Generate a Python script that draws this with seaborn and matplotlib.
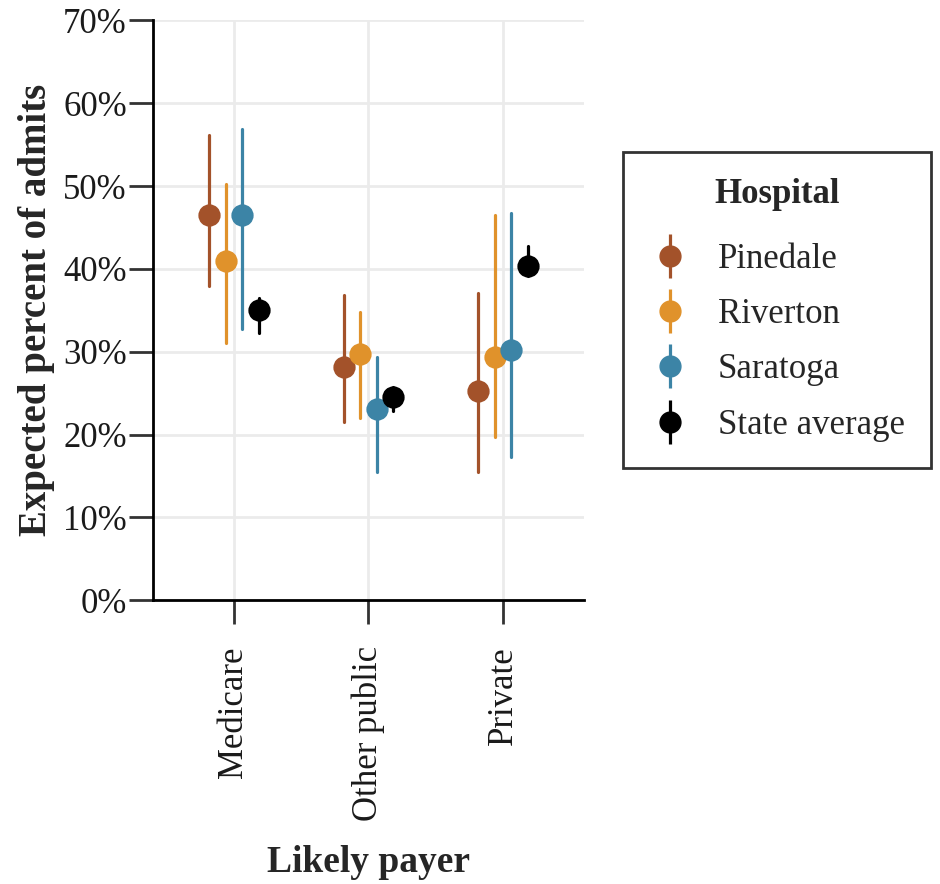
import numpy as np
import pandas as pd
import seaborn as sns
import matplotlib.pyplot as plt
from matplotlib.lines import Line2D
from matplotlib.legend_handler import HandlerTuple
from matplotlib.ticker import PercentFormatter

payers = ["Medicare", "Other public", "Private"]
hospitals = ["Pinedale", "Riverton", "Saratoga", "State average"]

# Estimated share of admits (%) with lower / upper interval bounds, per payer
estimate = {
    "Pinedale":      [46.5, 28.1, 25.2],
    "Riverton":      [40.9, 29.7, 29.4],
    "Saratoga":      [46.5, 23.1, 30.2],
    "State average": [35.0, 24.5, 40.4],
}
lower = {
    "Pinedale":      [37.9, 21.5, 15.5],
    "Riverton":      [31.1, 22.0, 19.7],
    "Saratoga":      [32.7, 15.5, 17.3],
    "State average": [32.3, 22.9, 39.1],
}
upper = {
    "Pinedale":      [56.2, 36.9, 37.1],
    "Riverton":      [50.3, 34.8, 46.5],
    "Saratoga":      [56.9, 29.4, 46.7],
    "State average": [36.5, 25.7, 42.8],
}

colors = ["#A3522A", "#E0922B", "#3C84A6", "#000000"]

# Long table: each group carries its lower bound, estimate and upper bound,
# so the median is the estimate and the min/max span is the interval.
rows = []
for h in hospitals:
    for i, p in enumerate(payers):
        for v in (lower[h][i], estimate[h][i], upper[h][i]):
            rows.append({"payer": p, "hospital": h, "value": v})
df = pd.DataFrame(rows)

sns.set_theme(style="whitegrid")
plt.rcParams["font.family"] = ["Liberation Serif", "DejaVu Serif"]

fig = plt.figure(figsize=(9.4, 8.84), dpi=100)
ax = fig.add_axes([0.163, 0.321, 0.458, 0.656])

sns.pointplot(
    data=df, x="payer", y="value", hue="hospital",
    order=payers, hue_order=hospitals, palette=colors,
    estimator="median", errorbar=lambda v: (v.min(), v.max()),
    dodge=0.37, linestyle="none", markers="o", markersize=14,
    err_kws={"linewidth": 2.3}, legend=False, ax=ax,
)

ax.set_ylim(0, 70)
ax.set_xlim(-0.6, 2.6)
ax.set_yticks(np.arange(0, 71, 10))
ax.yaxis.set_major_formatter(PercentFormatter(decimals=0))

ax.grid(True, color="#EBEBEB", linewidth=2)
ax.set_axisbelow(True)
for s in ("top", "right"):
    ax.spines[s].set_visible(False)
for s in ("left", "bottom"):
    ax.spines[s].set_color("black")
    ax.spines[s].set_linewidth(2)

ax.tick_params(axis="both", which="major", length=17, width=2, color="#333333",
               labelsize=25, labelcolor="#1a1a1a", pad=2, left=True, bottom=True)
ax.tick_params(axis="x", pad=16)
for lbl in ax.get_xticklabels():
    lbl.set_rotation(90)
    lbl.set_va("top")
    lbl.set_ha("center")

ax.set_xlabel("Likely payer", fontsize=27, fontweight="bold", labelpad=17)
ax.set_ylabel("Expected percent of admits", fontsize=28, fontweight="bold", labelpad=6)

# Legend keys drawn as point-ranges: a vertical bar through a filled dot
handles = []
for c in colors:
    bar = Line2D([], [], linestyle="none", marker="|", markersize=31,
                 markeredgewidth=2.3, color=c)
    dot = Line2D([], [], linestyle="none", marker="o", markersize=15, color=c)
    handles.append((bar, dot))

leg = fig.legend(
    handles, hospitals, handler_map={tuple: HandlerTuple(ndivide=1)},
    loc="upper left", bbox_to_anchor=(0.6628, 0.828),
    title="Hospital", fontsize=25, title_fontsize=25,
    frameon=True, fancybox=False, edgecolor="black",
    borderpad=0.75, labelspacing=0.64, handlelength=1.2, handletextpad=0.78,
    borderaxespad=0,
)
leg.get_title().set_fontweight("bold")
leg.get_frame().set_linewidth(2)
# a little more room between the title and the first entry
leg._legend_box.sep = 23

fig.savefig("out.png", dpi=100)
